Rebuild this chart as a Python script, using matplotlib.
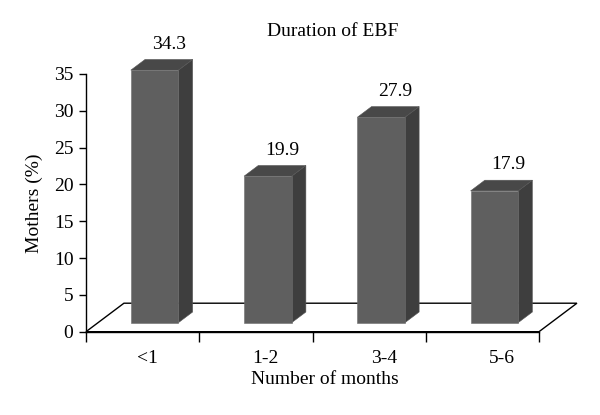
import matplotlib
matplotlib.use("Agg")
import matplotlib.pyplot as plt
from matplotlib.patches import Polygon

categories = ["<1", "1-2", "3-4", "5-6"]
values = [34.3, 19.9, 27.9, 17.9]
yticks = [0, 5, 10, 15, 20, 25, 30, 35]

plt.rcParams['font.family'] = ['Liberation Serif', 'DejaVu Serif']
FS = 14

fig = plt.figure(figsize=(6.0, 4.15), dpi=100)
ax = fig.add_axes([86/600, 83.3/415, 453/600, 257.7/415])
ax.set_xlim(0, len(categories))
ax.set_ylim(0, 35)

# 3D geometry (depth offsets in data units)
DX, DY = 0.335, 3.87      # floor depth
d0, db = 0.316, 0.375     # bar start depth fraction, bar depth fraction
w = 0.42                  # bar width
bx, by = db * DX, db * DY
B0 = d0 * DY

front_c = '#5f5f5f'
side_c = '#3e3e3e'
top_c = '#484848'

n = len(categories)
floor = Polygon([(0, 0), (n, 0), (n + DX, DY), (DX, DY)], closed=True,
                facecolor='white', edgecolor='black', lw=1.0, clip_on=False, zorder=1)
ax.add_patch(floor)

for i, v in enumerate(values):
    c = i + 0.5 + d0 * DX
    xl, xr = c - w / 2, c + w / 2
    side = Polygon([(xr, B0), (xr + bx, B0 + by), (xr + bx, B0 + v + by), (xr, B0 + v)],
                   closed=True, facecolor=side_c, edgecolor='#555555', lw=0.4, clip_on=False, zorder=3)
    top = Polygon([(xl, B0 + v), (xr, B0 + v), (xr + bx, B0 + v + by), (xl + bx, B0 + v + by)],
                  closed=True, facecolor=top_c, edgecolor='#555555', lw=0.4, clip_on=False, zorder=3)
    front = Polygon([(xl, B0), (xr, B0), (xr, B0 + v), (xl, B0 + v)],
                    closed=True, facecolor=front_c, edgecolor='#6e6e6e', lw=0.4, clip_on=False, zorder=4)
    for p in (side, top, front):
        ax.add_patch(p)
    ax.annotate(f"{v}", xy=(c + bx, B0 + v + by), xytext=(0, 5), textcoords='offset points',
                ha='center', va='bottom', fontsize=FS, annotation_clip=False)

for s in ('top', 'right'):
    ax.spines[s].set_visible(False)
for s in ('left', 'bottom'):
    ax.spines[s].set_linewidth(1.0)
    ax.spines[s].set_zorder(5)

ax.set_yticks(yticks)
ax.tick_params(axis='y', length=5, width=1, labelsize=FS, pad=4)
ax.set_xticks(range(n + 1))
ax.set_xticklabels([])
ax.tick_params(axis='x', length=7, width=1)
for i, lab in enumerate(categories):
    ax.text(0.54 + 1.045 * i, -3.7, lab, ha='center', va='center', fontsize=FS,
            transform=ax.transData)

ax.set_ylabel("Mothers (%)", fontsize=FS, labelpad=8)
fig.text(325/600, 1 - 379/415, "Number of months", ha='center', va='center', fontsize=FS)
fig.text(333/600, 1 - 31/415, "Duration of EBF", ha='center', va='center', fontsize=FS)

fig.savefig("out.png", dpi=100)
